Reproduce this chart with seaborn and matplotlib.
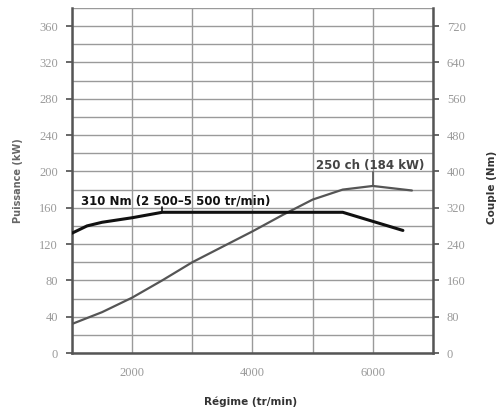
import numpy as np
import pandas as pd
import matplotlib
matplotlib.use("Agg")
import matplotlib.pyplot as plt
import seaborn as sns

# engine curves
rpm_power = [1000, 1500, 2000, 2500, 3000, 3500, 4000, 4500, 5000, 5500, 6000, 6650]
power_kw = [32, 45, 61, 80, 100, 117, 134, 152, 169, 180, 184, 179]

rpm_torque = [1000, 1250, 1500, 2000, 2500, 5500, 6500]
torque_nm = [264, 280, 288, 298, 310, 310, 270]

left_ticks = [0, 40, 80, 120, 160, 200, 240, 280, 320, 360]
right_ticks = [0, 80, 160, 240, 320, 400, 480, 560, 640, 720]
x_ticks = [2000, 4000, 6000]

sns.set_theme(style="whitegrid")
plt.rcParams['font.family'] = ['DejaVu Sans']

power = pd.DataFrame({'rpm': rpm_power, 'kw': power_kw})
torque = pd.DataFrame({'rpm': rpm_torque, 'nm': torque_nm})

fig = plt.figure(figsize=(4.99, 4.11), dpi=100)
fig.patch.set_facecolor('white')
ax = fig.add_axes([0.1443, 0.1411, 0.7234, 0.8394])
ax.set_facecolor('white')
ax2 = ax.twinx()

grid_col = '#9a9a9a'
spine_col = '#555555'
tick_col = '#9a9a9a'

# grid: every 20 kW, every 1000 rpm
ax.set_xlim(1000, 7000)
ax.set_ylim(0, 380)
ax2.set_ylim(0, 760)
ax.set_xticks(x_ticks)
ax.set_xticks([1000, 3000, 5000, 7000], minor=True)
ax.set_yticks(left_ticks)
ax.set_yticks(np.arange(20, 381, 40), minor=True)
ax2.set_yticks(right_ticks)
ax2.grid(False)
ax.grid(which='both', color=grid_col, lw=1.0)

sns.lineplot(data=power, x='rpm', y='kw', ax=ax, color='#555555', lw=1.6)
sns.lineplot(data=torque, x='rpm', y='nm', ax=ax2, color='#111111', lw=2.2)

for a in (ax, ax2):
    a.set_xlabel('')
    a.set_ylabel('')
    for s in a.spines.values():
        s.set_visible(False)
ax.spines['left'].set_visible(True)
ax.spines['bottom'].set_visible(True)
ax2.spines['right'].set_visible(True)
for s in (ax.spines['left'], ax.spines['bottom'], ax2.spines['right']):
    s.set_color(spine_col)
    s.set_linewidth(1.8)
    s.set_zorder(5)

tick_font = {'family': 'Liberation Serif', 'size': 9}
ax.tick_params(axis='both', which='major', length=4, color=spine_col, labelcolor=tick_col, pad=6)
ax.tick_params(axis='both', which='minor', length=0)
ax2.tick_params(axis='y', which='major', length=4, color=spine_col, labelcolor=tick_col, pad=6)
for lbl in ax.get_xticklabels() + ax.get_yticklabels() + ax2.get_yticklabels():
    lbl.set_fontfamily(tick_font['family'])
    lbl.set_fontsize(tick_font['size'])

# annotations
ax2.text(1150, 321, '310 Nm (2 500\u20135 500 tr/min)', fontsize=8.5, fontweight='bold',
         color='#111111', ha='left', va='bottom')
ax2.plot([2500, 2500], [310, 322], color='#111111', lw=1.2)

ax.text(5950, 199, '250 ch (184 kW)', fontsize=8.5, fontweight='bold',
        color='#444444', ha='center', va='bottom')
ax.plot([6000, 6000], [184, 199], color='#555555', lw=1.2)

fig.text(0.036, 0.56, 'Puissance (kW)', rotation=90, ha='center', va='center',
         fontsize=7, fontweight='bold', color='#666666')
fig.text(0.986, 0.545, 'Couple (Nm)', rotation=90, ha='center', va='center',
         fontsize=7.5, fontweight='bold', color='#333333')
fig.text(0.502, 0.022, 'Régime (tr/min)', ha='center', va='center',
         fontsize=7.5, fontweight='bold', color='#333333')

fig.savefig('out.png', dpi=100, facecolor='white')
